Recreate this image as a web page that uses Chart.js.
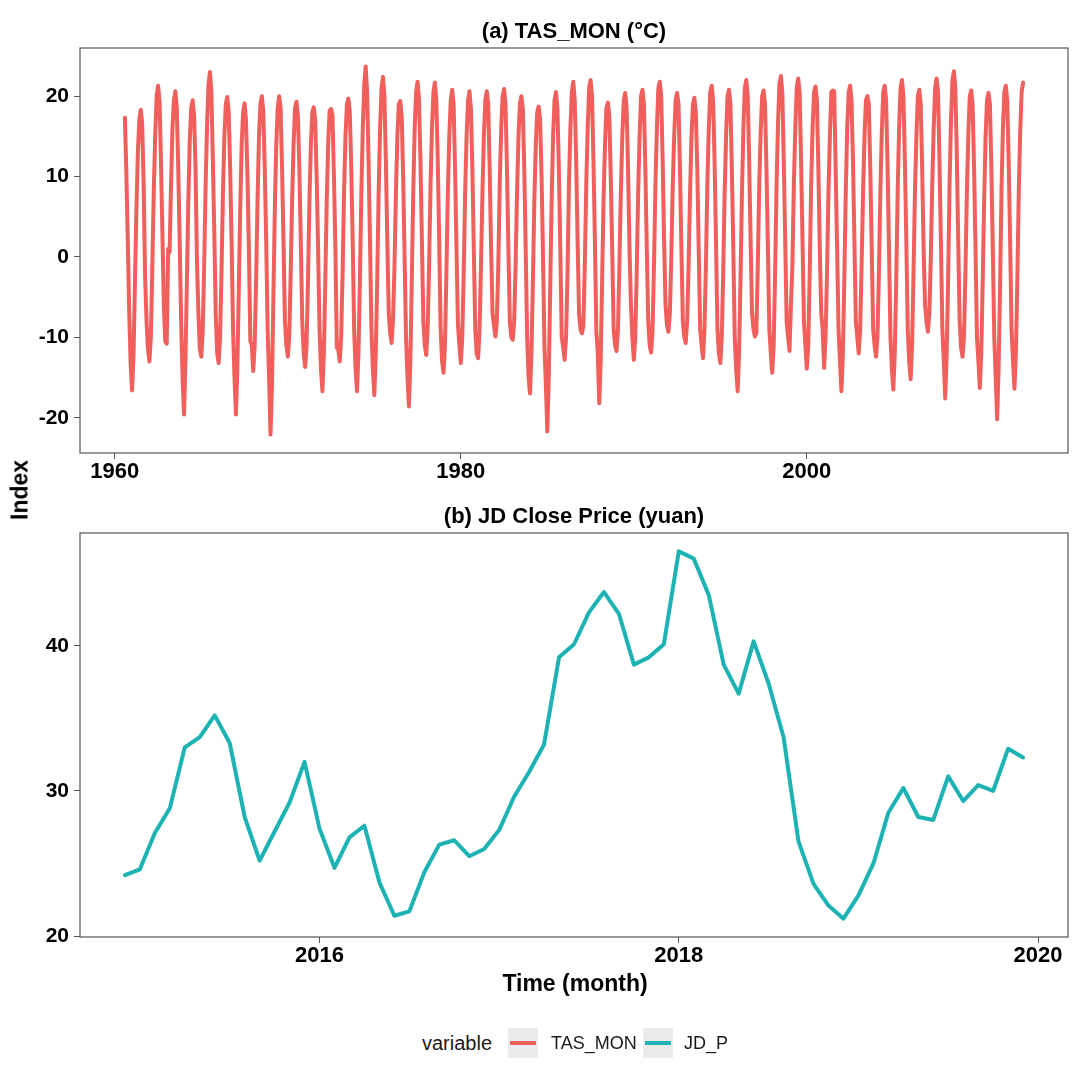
<!DOCTYPE html>
<html>
<head>
<meta charset="utf-8">
<script src="https://cdn.jsdelivr.net/npm/chart.js@4.4.1/dist/chart.umd.min.js"></script>
<style>
    body { margin: 0; background: #fff; }
    #wrap { position: relative; width: 1080px; height: 1080px; background: #fff; font-family: 'Liberation Sans', Arial, sans-serif; }
    canvas { position: absolute; left: 0; }
    .axis-title { position: absolute; font-weight: bold; font-size: 23px; color: #000; white-space: nowrap; transform: translate(-50%, -50%); }
    .panel-title { position: absolute; left: 574px; font-weight: bold; font-size: 22px; color: #000; white-space: nowrap; transform: translate(-50%, -50%); }
    .legend-text { position: absolute; font-size: 18px; color: #1a1a1a; line-height: 30px; top: 1028px; white-space: nowrap; }
    .legend-key { position: absolute; top: 1028px; width: 30px; height: 30px; background: #ebebeb; }
    .legend-key span { position: absolute; left: 2px; right: 2px; top: 13px; height: 4px; }
</style>
</head>
<body>
<div id="wrap">
    <canvas id="tasChart" width="1080" height="500" style="top:0"></canvas>
    <canvas id="jdChart" width="1080" height="515" style="top:485px"></canvas>
    <div class="panel-title" style="top:31px;">(a) TAS_MON (°C)</div>
    <div class="panel-title" style="top:516px;">(b) JD Close Price (yuan)</div>
    <div class="axis-title" style="left:20px;top:490px;transform:translate(-50%,-50%) rotate(-90deg);">Index</div>
    <div class="axis-title" style="left:575px;top:983px;">Time (month)</div>
    <div class="legend-text" style="left:422px;font-size:20px;">variable</div>
    <div class="legend-key" style="left:508px;"><span id="keyTas"></span></div>
    <div class="legend-text" style="left:551px;">TAS_MON</div>
    <div class="legend-key" style="left:643px;"><span id="keyJd"></span></div>
    <div class="legend-text" style="left:684px;">JD_P</div>
</div>
<script>
const tasColor = '#F05F5C';
const jdColor = '#1DB3B5';

// Monthly temperature, first value is Aug 1960, last is Jul 2012
const tasStartYear = 1960;
const tasStartMonth = 8;
const tasMon = [
    17.3, 10.5, 2, -7, -13.5,
    -16.6, -12, -3, 6, 13, 17, 18.3, 16.5, 9, -2.4, -8, -11.5,
    -13.0, -10, -1.5, 8, 15, 20, 21.3, 19.5, 12, 3, -6, -10.5,
    -10.8, 1.0, 0.6, 9, 16, 19.5, 20.6, 18.5, 11, 2, -8, -15,
    -19.6, -13, -3, 7, 14.5, 18.5, 19.5, 17.5, 11, -0.8, -7, -11.5,
    -12.4, -9, -1, 9, 16.5, 21.5, 23.0, 20.5, 12, 3, -7, -12,
    -13.2, -10, -2, 8, 15, 19, 19.9, 18, 11, 2, -9, -15,
    -19.6, -14, -4, 6, 14, 18, 19.1, 17, 10, 1, -10.5, -11,
    -14.2, -11, -3, 7, 15, 19, 20.0, 18, 11, 2, -9, -15,
    -22.1, -16, -5, 6, 14, 18.5, 20.0, 18.5, 11, 2, -8, -11,
    -12.4, -10, -2, 7, 14, 18.5, 19.3, 17.5, 11, 2, -8, -12,
    -13.7, -11, -3, 7, 14, 18, 18.6, 17, 10, 1, -9, -14,
    -16.7, -12, -3, 7, 14, 18.2, 18.4, 17.6, 10, 1, -11.3, -11.5,
    -13.0, -10, -2, 8, 15, 19, 19.7, 18, 11, 2, -9, -14,
    -16.7, -12, -3, 8, 16, 21.5, 23.7, 20.5, 12, 2, -9, -14,
    -17.2, -12, -3, 8, 16, 21, 22.4, 20, 12, 2, -7, -9.5,
    -10.7, -7.6, -1, 8, 15, 19, 19.4, 17.5, 10, 0, -10, -15,
    -18.6, -13, -3, 8, 16, 20.5, 21.8, 19.5, 12, 2, -8, -11,
    -12.2, -9, -1, 9, 16, 20.5, 21.7, 19.5, 12, 2, -9, -13,
    -14.4, -11, -2, 8, 15, 19.5, 20.8, 19, 11, 1, -8.4, -11,
    -13.2, -10, -2, 8, 15, 19.5, 20.6, 18.5, 11, 1, -9, -12,
    -12.6, -9, -1, 8, 15, 19.5, 20.6, 19, 11, 1, -7, -8.5,
    -9.9, -8, -1, 9, 16, 20, 20.9, 19, 11, 1, -8, -10,
    -10.3, -8, -1, 8, 15, 19, 20.0, 18.5, 11, 1, -10, -15,
    -17.0, -12, -3, 7, 14, 18, 18.7, 17, 10, 0, -11, -16,
    -21.7, -15, -4, 7, 15, 19.5, 20.5, 18.5, 11, 1, -10, -11.2,
    -12.8, -10, -2, 9, 16, 20.5, 21.8, 19.5, 12, 2, -7, -9,
    -9.5, -8.6, -1, 9, 16, 21, 22.0, 20, 12, 2, -9.2, -12,
    -18.2, -13, -3, 7, 14, 18.5, 19.2, 17.5, 10, 1, -9, -11,
    -11.7, -9, -1, 8, 15, 19.5, 20.4, 18.5, 11, 1, -6.0, -10,
    -12.8, -10, -2, 8, 15, 20, 20.8, 19, 11, 1, -8, -11,
    -11.9, -9, -1, 9, 16, 21, 21.8, 20, 12, 2, -6, -8.5,
    -9.3, -7, 0, 9, 15, 19.5, 20.4, 19, 11, 1, -8, -10,
    -10.7, -8, -1, 8, 15, 19, 19.8, 18, 11, 1, -9, -11,
    -12.6, -9, -1, 9, 16, 20.5, 21.3, 19.5, 12, 2, -9, -12,
    -13.2, -10, -2, 8, 15, 20, 20.8, 19, 11, 1, -10, -14,
    -16.7, -12, -3, 8, 16, 21, 22.0, 20, 12, 2, -7, -9,
    -9.9, -9.5, -1, 9, 15.5, 20, 20.7, 19, 11, 1, -9, -12,
    -14.4, -11, -2, 9, 16.5, 21.5, 22.5, 20.5, 12, 2, -8, -10,
    -11.7, -5.8, -1, 9, 16, 21, 22.2, 20.5, 12, 2, -8, -11,
    -13.9, -11, -2, 9, 16, 20.5, 21.2, 19.5, 11, 1, -7, -9.1,
    -13.8, -10, -2, 8, 15, 20.5, 20.7, 20.6, 11, 1, -9, -13,
    -16.7, -12, -3, 8, 16, 20.5, 21.3, 19.5, 12, 2, -8, -10,
    -12.0, -9, -1, 8, 15, 19.5, 20.0, 19.0, 11, 1, -9, -11,
    -12.4, -10, -2, 8, 15.5, 20.5, 21.3, 19.5, 11, 1, -10, -14,
    -16.5, -12, -3, 8, 16, 21, 22.0, 20, 12, 2, -9, -13,
    -15.2, -11, -2, 8, 15, 20, 20.8, 19, 11, 1, -6, -8,
    -9.3, -7, 0, 9, 16, 21, 22.2, 20.5, 12, 2, -9, -13,
    -17.6, -12, -3, 9, 17, 22, 23.1, 21, 13, 2, -8, -11.3,
    -12.4, -10, -2, 8, 15, 20, 20.7, 19, 11, 1, -10, -13.0,
    -16.3, -12, -3, 7, 15, 19.5, 20.4, 19, 11, 1, -10, -15,
    -20.2, -14, -4, 8, 16, 20.5, 21.3, 19.5, 12, 2, -9, -13,
    -16.4, -12, -3, 8, 15.5, 20.5, 21.7
];
const tasTicksX = [1960, 1980, 2000];
const tasTicksY = [-20, -10, 0, 10, 20];

// JD monthly close price, Dec 2014 to Dec 2019
const jdStartYear = 2014;
const jdStartMonth = 12;
const jdPrice = [
    24.2,
    24.6, 27.1, 28.8, 33.0, 33.7, 35.2, 33.3, 28.2, 25.2, 27.2, 29.2, 32.0,
    27.4, 24.7, 26.8, 27.6, 23.7, 21.4, 21.7, 24.4, 26.3, 26.6, 25.5, 26.0,
    27.3, 29.6, 31.3, 33.2, 39.2, 40.1, 42.3, 43.7, 42.2, 38.7, 39.2, 40.1,
    46.5, 46.0, 43.5, 38.7, 36.7, 40.3, 37.4, 33.7, 26.5, 23.6, 22.1, 21.2,
    22.8, 25.0, 28.5, 30.2, 28.2, 28.0, 31.0, 29.3, 30.4, 30.0, 32.9, 32.3
];
const jdTicksX = [2016, 2018, 2020];
const jdTicksY = [20, 30, 40];

const fontFamily = "'Liberation Sans', Arial, sans-serif";

// Turn a monthly series into {x: decimal year, y}
function toPoints(values, startYear, startMonth) {
    return values.map((v, i) => ({
        x: startYear + (startMonth - 1 + i) / 12,
        y: v
    }));
}

// ggplot style 5% expansion on both sides
function expandRange(values) {
    const lo = Math.min(...values);
    const hi = Math.max(...values);
    const pad = (hi - lo) * 0.05;
    return { min: lo - pad, max: hi + pad };
}

// Draw the box around each panel
const panelBorder = {
    id: 'panelBorder',
    afterDraw(chart) {
        const a = chart.chartArea;
        const ctx = chart.ctx;
        ctx.save();
        ctx.strokeStyle = '#555';
        ctx.lineWidth = 1.2;
        ctx.strokeRect(a.left, a.top, a.right - a.left, a.bottom - a.top);
        ctx.restore();
    }
};

function makePanel(canvasId, points, color, ticksX, ticksY, xAxisHeight) {
    const xr = expandRange(points.map(p => p.x));
    const yr = expandRange(points.map(p => p.y));

    return new Chart(document.getElementById(canvasId).getContext('2d'), {
        type: 'line',
        data: {
            datasets: [{
                data: points,
                borderColor: color,
                borderWidth: 4,
                pointRadius: 0,
                tension: 0,
                fill: false,
                borderJoinStyle: 'round',
                borderCapStyle: 'round'
            }]
        },
        options: {
            responsive: false,
            animation: false,
            devicePixelRatio: 1,
            parsing: false,
            layout: { padding: { left: 0, right: 12, top: 48, bottom: 0 } },
            plugins: {
                legend: { display: false },
                tooltip: { enabled: false }
            },
            scales: {
                x: {
                    type: 'linear',
                    min: xr.min,
                    max: xr.max,
                    afterBuildTicks: scale => { scale.ticks = ticksX.map(v => ({ value: v })); },
                    afterFit: scale => { scale.height = xAxisHeight; },
                    ticks: {
                        color: '#000',
                        font: { family: fontFamily, size: 22, weight: 'bold' },
                        padding: 0,
                        maxRotation: 0,
                        callback: v => String(v)
                    },
                    grid: { drawOnChartArea: false, drawTicks: true, tickLength: 6, color: '#555' },
                    border: { display: false }
                },
                y: {
                    type: 'linear',
                    min: yr.min,
                    max: yr.max,
                    afterBuildTicks: scale => { scale.ticks = ticksY.map(v => ({ value: v })); },
                    afterFit: scale => { scale.width = 80; },
                    ticks: {
                        color: '#000',
                        font: { family: fontFamily, size: 21, weight: 'bold' },
                        padding: 5,
                        callback: v => String(v)
                    },
                    grid: { drawOnChartArea: false, drawTicks: true, tickLength: 6, color: '#555' },
                    border: { display: false }
                }
            }
        },
        plugins: [panelBorder]
    });
}

document.getElementById('keyTas').style.background = tasColor;
document.getElementById('keyJd').style.background = jdColor;

makePanel('tasChart', toPoints(tasMon, tasStartYear, tasStartMonth), tasColor, tasTicksX, tasTicksY, 47);
makePanel('jdChart', toPoints(jdPrice, jdStartYear, jdStartMonth), jdColor, jdTicksX, jdTicksY, 63);
</script>
</body>
</html>
